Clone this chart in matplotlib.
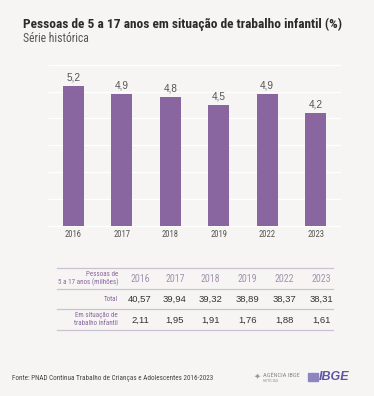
import matplotlib.pyplot as plt
from matplotlib import font_manager
from matplotlib.lines import Line2D
from matplotlib.patches import Rectangle

years = ['2016', '2017', '2018', '2019', '2022', '2023']
pct = [5.2, 4.9, 4.8, 4.5, 4.9, 4.2]
total = ['40,57', '39,94', '39,32', '38,89', '38,37', '38,31']
child_work = ['2,11', '1,95', '1,91', '1,76', '1,88', '1,61']

BG = '#f6f5f3'
PURPLE = '#8a66a0'

# pick a condensed face if the machine has one
installed = set(f.name for f in font_manager.fontManager.ttflist)
cond = [n for n in ['Roboto Condensed', 'Liberation Sans Narrow', 'Open Sans Condensed',
                    'Archivo Narrow', 'PT Sans Narrow'] if n in installed]
NARROW = cond[:1] + ['Liberation Sans', 'DejaVu Sans']
REG = ['Liberation Sans', 'DejaVu Sans']
plt.rcParams['font.family'] = NARROW

fig = plt.figure(figsize=(3.74, 3.96), dpi=100, facecolor=BG)
W, H = 374, 396

def fx(x):
    return x / W

def fy(y):
    return 1 - y / H

# title block
t = fig.text(fx(23), fy(24), 'Pessoas de 5 a 17 anos em situação de trabalho infantil (%)',
             fontsize=9.3, fontweight='bold', color='#2b2b2b', va='center', ha='left')
fig.text(fx(23), fy(38.5), 'Série histórica', fontsize=8.4, color='#555555',
         va='center', ha='left')

# fit title to the reference width (23 -> 342 px)
fig.canvas.draw()
tw = t.get_window_extent().width
t.set_fontsize(9.3 * 319 / tw)

# bars
ax = fig.add_axes([fx(49), fy(225.7), fx(340) - fx(49), fy(64.7) - fy(225.7)])
ax.set_facecolor(BG)
x = range(len(years))
bars = ax.bar(x, pct, width=0.43, color=PURPLE, zorder=2)
ax.set_xlim(-0.5, len(years) - 0.5)
ax.set_ylim(0, 6)
for g in range(0, 7):
    ax.axhline(g, color='white', lw=1.0, zorder=1, clip_on=False)
for b, v in zip(bars, pct):
    ax.text(b.get_x() + b.get_width() / 2, v + 0.12, f'{v:.1f}'.replace('.', ','),
            ha='center', va='bottom', fontsize=7.2, color='#555555', family=REG)
ax.set_xticks(list(x))
ax.set_xticklabels(years, fontsize=6.2, color='#555555')
ax.tick_params(axis='x', length=0, pad=3)
ax.set_yticks([])
for s in ax.spines.values():
    s.set_visible(False)

# table
line_ys = [268.3, 289, 309.3, 330]
for ly in line_ys:
    fig.add_artist(Line2D([fx(57), fx(333)], [fy(ly), fy(ly)], color='#cbc3d3', lw=0.9))
col_x = [140, 175, 210.7, 247.7, 284.3, 321]
lab_x = 118
fig.text(fx(lab_x), fy(278.5), 'Pessoas de\n5 a 17 anos (milhões)', ha='right', va='center',
         fontsize=5.0, color=PURPLE, linespacing=1.2)
fig.text(fx(lab_x), fy(299.5), 'Total', ha='right', va='center', fontsize=5.0, color=PURPLE)
fig.text(fx(lab_x), fy(319.8), 'Em situação de\ntrabalho infantil', ha='right', va='center',
         fontsize=5.0, color=PURPLE, linespacing=1.2)
for cx, yr, tt, c in zip(col_x, years, total, child_work):
    fig.text(fx(cx), fy(278.5), yr, ha='center', va='center', fontsize=7.2, color='#a493b2')
    fig.text(fx(cx), fy(299.5), tt, ha='center', va='center', fontsize=6.8, color='#333333',
             family=REG)
    fig.text(fx(cx), fy(320), c, ha='center', va='center', fontsize=6.8, color='#333333',
             family=REG)

# footer
fig.text(fx(12), fy(378), 'Fonte: PNAD Contínua Trabalho de Crianças e Adolescentes 2016-2023',
         ha='left', va='center', fontsize=5.1, color='#444444')
fig.text(fx(257), fy(376), '✦', ha='center', va='center', fontsize=6, color='#999999',
         family=['DejaVu Sans'])
fig.text(fx(263), fy(375.5), 'AGÊNCIA IBGE', ha='left', va='center', fontsize=4.6, color='#888888')
fig.text(fx(263), fy(380.5), 'NOTÍCIAS', ha='left', va='center', fontsize=3.0, color='#999999')
fig.add_artist(Rectangle((fx(308), fy(381)), fx(10), fy(373) - fy(381),
                         color='#8d85c0', transform=fig.transFigure))
fig.text(fx(319), fy(377), 'IBGE', ha='left', va='center', fontsize=9, fontweight='bold',
         style='italic', color='#5c55a6', family=REG)

fig.savefig('out.png', dpi=100, facecolor=BG)
